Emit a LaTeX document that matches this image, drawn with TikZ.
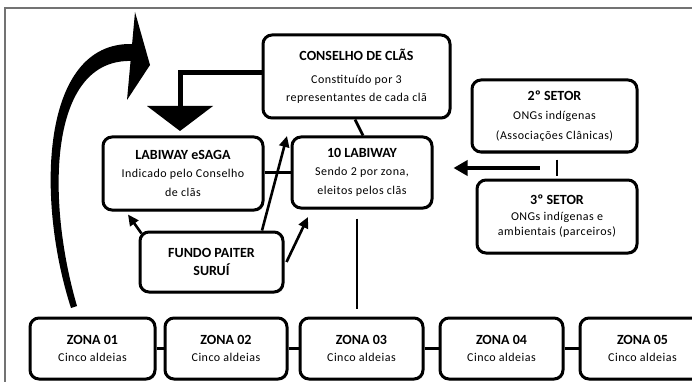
\documentclass[tikz,border=0pt]{standalone}
\usepackage{fontspec}
\setmainfont{Carlito}
\newfontfamily\subfam[LetterSpace=4.0]{Carlito}
\usetikzlibrary{arrows.meta,shadows,calc}
\newcommand\subsz{\subfam\fontsize{12}{19}\selectfont}
\newcommand\ttlb[1]{{\normalfont\bfseries\fontsize{14}{19}\selectfont #1}}
\begin{document}
\begin{tikzpicture}[x=1pt,y=-1pt,
  box/.style={draw=black, line width=3pt, rounded corners=9pt, fill=white,
    align=center, inner sep=0pt, font=\subsz,
    drop shadow={shadow xshift=1.2pt,shadow yshift=-1.6pt,opacity=0.3}},
  conn/.style={line width=2.8pt},
  arr/.style={line width=2.6pt, -{Triangle[length=11pt,width=10pt]}},
  bigarr/.style={line width=4pt, -{Triangle[length=14pt,width=15pt]}},
  frame/.style={draw=black!55, line width=2pt}]
\useasboundingbox (0,0) rectangle (692,382);
\clip (0,0) rectangle (692,382);
% frame
\draw[frame] (5,382) -- (5,8) -- (692,8);
% boxes
\node[box, minimum width=187pt, minimum height=83pt] (cons) at (356.5,76.5)
  {\ttlb{CONSELHO DE CLÃS}\\[4pt] Constituído por 3\\[-1pt] representantes de cada clã};
\node[box, minimum width=160pt, minimum height=73pt] (esaga) at (183,173.5)
  {\ttlb{LABIWAY eSAGA}\\[-1pt] Indicado pelo Conselho\\ de clãs};
\node[box, minimum width=140pt, minimum height=71pt] (lab) at (362,172.5)
  {\ttlb{10 LABIWAY}\\[-1pt] Sendo 2 por zona,\\ eleitos pelos clãs};
\node[box, minimum width=165pt, minimum height=72pt] (s2) at (554.5,116)
  {\ttlb{2º SETOR}\\ ONGs indígenas\\[1pt] (Associações Clânicas)};
\node[box, minimum width=160pt, minimum height=73pt] (s3) at (557,216.5)
  {\ttlb{3º SETOR}\\[-3pt] ONGs indígenas e\\[-4pt] ambientais (parceiros)};
\node[box, minimum width=143pt, minimum height=60pt] (fundo) at (211.5,262)
  {\ttlb{FUNDO PAITER}\\[-1pt] \ttlb{SURUÍ}};
\foreach \n/\x/\w/\t in {z1/92.5/125/01, z2/226/122/02, z3/361.5/123/03, z4/501.5/123/04, z5/642.5/125/05}{
  \node[box, minimum width=\w pt, minimum height=61pt] (\n) at (\x,348.5)
    {\ttlb{ZONA \t}\\[-2pt] Cinco aldeias};
}
% zone links
\draw[conn] (z1.east) -- (z2.west);
\draw[conn] (z2.east) -- (z3.west);
\draw[conn] (z3.east) -- (z4.west);
\draw[conn] (z4.east) -- (z5.west);
% labiway to zona 03
\draw[conn, shorten <=9pt, shorten >=8pt] ([xshift=-5pt]lab.south) -- ([xshift=-4.5pt]z3.north);
% conselho to labiway
\draw[conn] ([xshift=-1.5pt]cons.south) -- ([xshift=1pt]lab.north);
% esaga to labiway
\draw[conn] ([yshift=1pt]esaga.east) -- (lab.west);
% setores
\draw[conn, shorten <=6pt, shorten >=3pt] ([xshift=2.5pt]s2.south) -- (s3.north);
\coordinate (smid) at ($(s2.south)!0.5!(s3.north)+(0,2)$);
\draw[bigarr, shorten <=16pt, shorten >=20pt] (smid) -- (smid -| lab.east);
% fundo arrows
\coordinate (ctip) at (287,136);
\coordinate (ltip) at (308,217);
\draw[arr] ([xshift=3pt,yshift=-3pt]fundo.north west) -- ([xshift=-55pt,yshift=-3pt]esaga.south);
\draw[arr] ([xshift=50.5pt]fundo.north) -- (ctip);
\draw[arr] ([xshift=2pt]fundo.east) -- (ltip);
% conselho elbow arrow
\coordinate (elb) at (180,107);
\draw[line width=5pt] ([yshift=3.5pt]cons.west) -| (elb);
\fill (147,106) -- (213,106) -- (180,131) -- cycle;
% big curved arrow
\fill (71,308) .. controls (36,200) and (40,42) .. (132,44)
  -- (132,61) .. controls (48,58) and (46,200) .. (77,306) -- cycle;
\fill (135,12) -- (150,65) -- (127,100) -- cycle;
\end{tikzpicture}
\end{document}
